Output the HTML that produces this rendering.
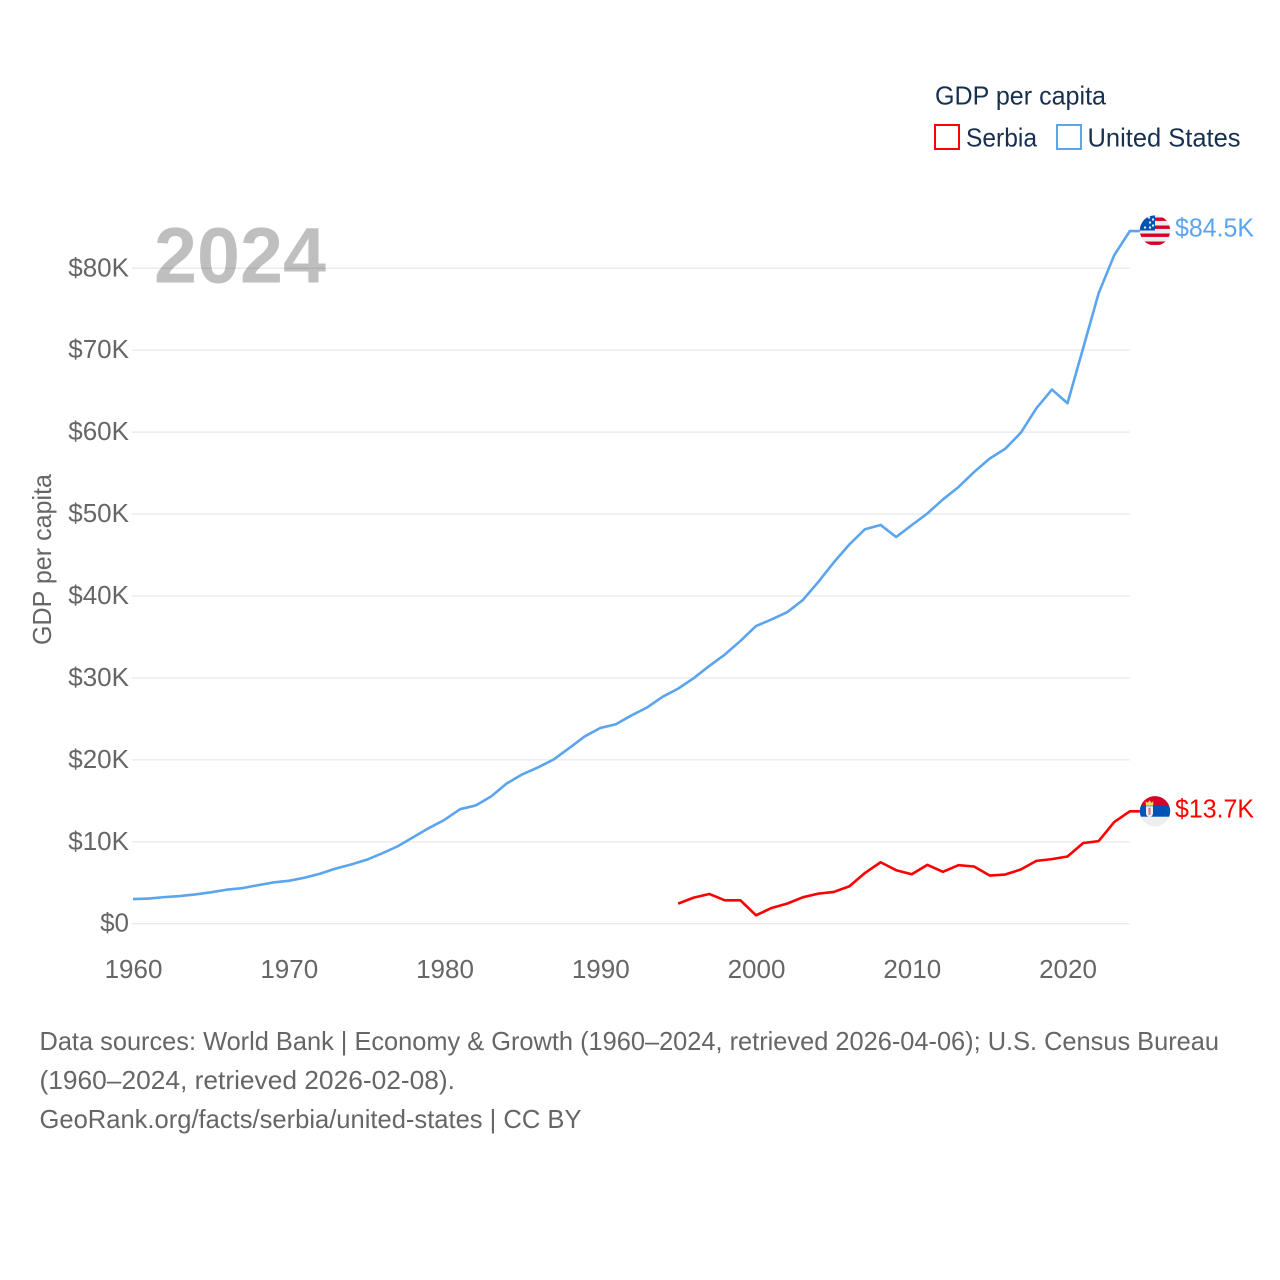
<!DOCTYPE html>
<html lang="en">
<head>
<meta charset="utf-8">
<title>GDP per capita: Serbia and United States</title>
<style>
html,body{margin:0;padding:0;background:#fff;}
svg{display:block;font-family:"Liberation Sans",sans-serif;}
</style>
</head>
<body>
<svg id="chart" xmlns="http://www.w3.org/2000/svg" width="1280" height="1280" viewBox="0 0 1280 1280">
  <defs>
    <clipPath id="flag-clip"><circle cx="0" cy="0" r="15.2"></circle></clipPath>
  </defs>
  <rect x="0" y="0" width="1280" height="1280" fill="#ffffff"></rect>

  <g>
    <text x="935" y="104.5" font-size="26" fill="#18304f" textLength="171" lengthAdjust="spacingAndGlyphs">GDP per capita</text>
    <g>
      <rect x="935" y="125" width="24" height="24" fill="none" stroke="#ff0000" stroke-width="2"></rect>
      <text x="966" y="146.5" font-size="26" fill="#18304f" textLength="71" lengthAdjust="spacingAndGlyphs">Serbia</text>
    </g>
    <g>
      <rect x="1057" y="125" width="24" height="24" fill="none" stroke="#5ba4ee" stroke-width="2"></rect>
      <text x="1087.5" y="146.5" font-size="26" fill="#18304f" textLength="153" lengthAdjust="spacingAndGlyphs">United States</text>
    </g>
  </g>

  <text transform="translate(51,645) rotate(-90)" x="0" y="0" font-size="26" fill="#666666" textLength="171" lengthAdjust="spacingAndGlyphs">GDP per capita</text>

  <g id="grid-layer"></g>
  <g id="y-tick-layer"></g>
  <g id="x-tick-layer"></g>

  <text x="154" y="282.5" font-size="79" font-weight="bold" fill="#000000" fill-opacity="0.25" textLength="172" lengthAdjust="spacingAndGlyphs">2024</text>

  <g id="series-layer"></g>

  <g id="flag-us">
    <g clip-path="url(#flag-clip)">
      <rect x="-16" y="-16" width="32" height="32" fill="#eeeeee"></rect>
      <rect x="-16" y="-13" width="32" height="3.4" fill="#d80027"></rect>
      <rect x="-16" y="-5" width="32" height="3.4" fill="#d80027"></rect>
      <rect x="-16" y="3" width="32" height="3.4" fill="#d80027"></rect>
      <rect x="-16" y="11" width="32" height="3.4" fill="#d80027"></rect>
      <rect x="-16" y="-16" width="16" height="16" fill="#0052b4"></rect>
      <circle cx="-10" cy="-3" r="1.2" fill="#eeeeee"></circle>
      <circle cx="-5" cy="-3" r="1.2" fill="#eeeeee"></circle>
      <circle cx="-5" cy="-8" r="1.2" fill="#eeeeee"></circle>
      <circle cx="-2" cy="-5" r="1.2" fill="#eeeeee"></circle>
      <circle cx="-2" cy="-11" r="1.2" fill="#eeeeee"></circle>
      <circle cx="-6" cy="-13" r="1.2" fill="#eeeeee"></circle>
    </g>
  </g>

  <g id="flag-rs">
    <g clip-path="url(#flag-clip)">
      <rect x="-16" y="-16" width="32" height="32" fill="#eeeeee"></rect>
      <rect x="-16" y="-16" width="32" height="10.7" fill="#d80027"></rect>
      <rect x="-16" y="-5.3" width="32" height="10.7" fill="#0052b4"></rect>
      <path d="M-9-5.5 L-9.5-10 L-7.5-8.5 L-5.5-11 L-3.5-8.5 L-1.5-10 L-2-5.5 Z" fill="#ffda44"></path>
      <path d="M-9-5 H-2 V2 Q-2 5 -5.5 6 Q-9 5 -9 2 Z" fill="#eeeeee"></path>
      <rect x="-6.5" y="-3.5" width="2" height="7" fill="#d80027" opacity="0.55"></rect>
    </g>
  </g>

  <g id="end-label-layer"></g>

  <g>
    <text x="39.5" y="1050" font-size="26" fill="#666666" textLength="1179.5" lengthAdjust="spacingAndGlyphs">Data sources: World Bank | Economy &amp; Growth (1960–2024, retrieved 2026-04-06); U.S. Census Bureau</text>
    <text x="39.5" y="1089" font-size="26" fill="#666666" textLength="415.5" lengthAdjust="spacingAndGlyphs">(1960–2024, retrieved 2026-02-08).</text>
    <text x="39.5" y="1128" font-size="26" fill="#666666" textLength="542" lengthAdjust="spacingAndGlyphs">GeoRank.org/facts/serbia/united-states | CC BY</text>
  </g>
</svg>

<script>
const usStartYear = 1960;
const serbiaStartYear = 1995;
const usValues = [3.007,3.067,3.244,3.375,3.574,3.828,4.146,4.336,4.696,5.032,5.234,5.609,6.094,6.726,7.226,7.801,8.592,9.453,10.565,11.674,12.675,13.976,14.434,15.544,17.121,18.237,19.071,20.039,21.417,22.857,23.889,24.342,25.419,26.387,27.695,28.691,29.968,31.459,32.854,34.515,36.330,37.134,38.023,39.497,41.712,44.115,46.299,48.150,48.670,47.195,48.651,50.066,51.784,53.291,55.124,56.763,57.967,59.915,62.905,65.195,63.528,70.219,76.957,81.595,84.534];
const serbiaValues = [2.45,3.18,3.63,2.86,2.86,1.02,1.92,2.45,3.22,3.67,3.88,4.57,6.2,7.5,6.53,6.04,7.18,6.33,7.14,6.98,5.88,6.0,6.61,7.67,7.88,8.2,9.84,10.08,12.4,13.72];
const yTicks = [0,10,20,30,40,50,60,70,80];
const yTickLabels = ["$0","$10K","$20K","$30K","$40K","$50K","$60K","$70K","$80K"];
const xTicks = [1960,1970,1980,1990,2000,2010,2020];
const xTickLabels = ["1960","1970","1980","1990","2000","2010","2020"];
const usEndLabel = "$84.5K";
const serbiaEndLabel = "$13.7K";

const SVG_NS = "http://www.w3.org/2000/svg";
const xScale = function (year) { return 133 + (year - 1960) * 15.575; };
const yScale = function (value) { return 923.7 - value * 8.193; };
const plotRight = xScale(2024);
const flagX = 1155;
const lineStubEnd = 1140;

function make(tag, parentId) {
  const el = document.createElementNS(SVG_NS, tag);
  document.getElementById(parentId).appendChild(el);
  return el;
}

yTicks.forEach(function (tick, i) {
  const grid = make("line", "grid-layer");
  
  
  grid.setAttribute("x1", 132);
  grid.setAttribute("x2", plotRight);
  grid.setAttribute("y1", yScale(tick));
  grid.setAttribute("y2", yScale(tick));
  grid.setAttribute("stroke", "#ebebeb");
  grid.setAttribute("stroke-width", "1.4");

  const label = make("text", "y-tick-layer");
  
  
  label.setAttribute("x", 129);
  label.setAttribute("y", yScale(tick) + 8);
  label.setAttribute("text-anchor", "end");
  label.setAttribute("font-size", "26");
  label.setAttribute("fill", "#666666");
  label.textContent = yTickLabels[i];
});

xTicks.forEach(function (tick, i) {
  const label = make("text", "x-tick-layer");
  
  
  label.setAttribute("x", xScale(tick) + 0.5);
  label.setAttribute("y", 978);
  label.setAttribute("text-anchor", "middle");
  label.setAttribute("font-size", "26");
  label.setAttribute("fill", "#666666");
  label.textContent = xTickLabels[i];
});

function linePoints(values, startYear) {
  const pts = values.map(function (v, i) {
    return xScale(startYear + i).toFixed(2) + "," + yScale(v).toFixed(2);
  });
  pts.push(lineStubEnd + "," + yScale(values[values.length - 1]).toFixed(2));
  return pts.join(" ");
}

const usLine = make("polyline", "series-layer");


usLine.setAttribute("points", linePoints(usValues, usStartYear));
usLine.setAttribute("fill", "none");
usLine.setAttribute("stroke", "#5ba4ee");
usLine.setAttribute("stroke-width", "2.6");
usLine.setAttribute("stroke-linejoin", "round");

const rsLine = make("polyline", "series-layer");


rsLine.setAttribute("points", linePoints(serbiaValues, serbiaStartYear));
rsLine.setAttribute("fill", "none");
rsLine.setAttribute("stroke", "#ff0000");
rsLine.setAttribute("stroke-width", "2.6");
rsLine.setAttribute("stroke-linejoin", "round");

const usLast = yScale(usValues[usValues.length - 1]);
const rsLast = yScale(serbiaValues[serbiaValues.length - 1]);
document.getElementById("flag-us").setAttribute("transform", "translate(" + flagX + "," + (usLast - 0.6) + ")");
document.getElementById("flag-rs").setAttribute("transform", "translate(" + flagX + "," + rsLast + ")");

const usLabel = make("text", "end-label-layer");


usLabel.setAttribute("x", 1175);
usLabel.setAttribute("y", usLast + 5.5);
usLabel.setAttribute("font-size", "26");
usLabel.setAttribute("fill", "#5ba4ee");
usLabel.setAttribute("textLength", "79");
usLabel.setAttribute("lengthAdjust", "spacingAndGlyphs");
usLabel.textContent = usEndLabel;

const rsLabel = make("text", "end-label-layer");


rsLabel.setAttribute("x", 1175);
rsLabel.setAttribute("y", rsLast + 6);
rsLabel.setAttribute("font-size", "26");
rsLabel.setAttribute("fill", "#ff0000");
rsLabel.setAttribute("textLength", "79");
rsLabel.setAttribute("lengthAdjust", "spacingAndGlyphs");
rsLabel.textContent = serbiaEndLabel;
</script>
</body>
</html>
